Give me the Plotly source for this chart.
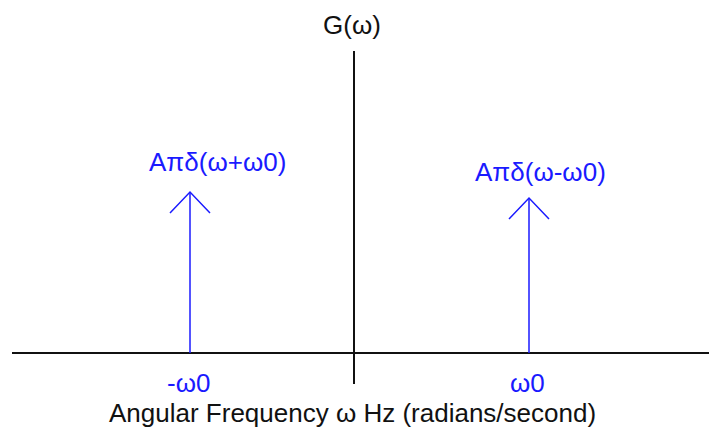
import plotly.graph_objects as go

# Impulse positions (horizontal units, origin at ω = 0) and their heights
impulse_x = [-164, 175]
impulse_h = [161, 155]
impulse_labels = ["Aπδ(ω+ω0)", "Aπδ(ω-ω0)"]
tick_labels = ["-ω0", "ω0"]

# Axis extents
x_axis_span = [-342, 355]
y_axis_span = [-31, 302]

BLUE = "#1a1aff"
FONT = "Liberation Sans, Arial, sans-serif"
SIZE = 26

fig = go.Figure()

# Frequency axis and G(ω) axis
fig.add_trace(go.Scatter(x=x_axis_span, y=[0, 0], mode="lines",
                         line=dict(color="#111111", width=2), hoverinfo="skip"))
fig.add_trace(go.Scatter(x=[0, 0], y=y_axis_span, mode="lines",
                         line=dict(color="#111111", width=2), hoverinfo="skip"))

# Impulses drawn as upward arrows with open heads
head_w, head_h = 20, 21
for x, h in zip(impulse_x, impulse_h):
    fig.add_trace(go.Scatter(x=[x, x], y=[0, h], mode="lines",
                             line=dict(color=BLUE, width=1.5), hoverinfo="skip"))
    fig.add_trace(go.Scatter(x=[x - head_w, x, x + head_w],
                             y=[h - head_h, h, h - head_h], mode="lines",
                             line=dict(color=BLUE, width=1.5), hoverinfo="skip"))

# Impulse labels above the arrows
label_dx = [27, 11]
label_dy = [30, 26]
for x, h, t, dx, dy in zip(impulse_x, impulse_h, impulse_labels, label_dx, label_dy):
    fig.add_annotation(x=x + dx, y=h + dy, text=t, showarrow=False,
                       font=dict(family=FONT, size=SIZE, color=BLUE))

# Tick labels under the impulses
for x, t in zip(impulse_x, tick_labels):
    fig.add_annotation(x=x - 2, y=-30, text=t, showarrow=False,
                       font=dict(family=FONT, size=SIZE, color=BLUE))

# Axis titles
fig.add_annotation(x=-2, y=328, text="G(ω)", showarrow=False,
                   font=dict(family=FONT, size=SIZE, color="#111111"))
fig.add_annotation(x=-2, y=-60, text="Angular Frequency ω Hz (radians/second)",
                   showarrow=False, font=dict(family=FONT, size=SIZE, color="#111111"))

fig.update_layout(
    width=709, height=434,
    margin=dict(l=0, r=0, t=0, b=0),
    paper_bgcolor="white", plot_bgcolor="white",
    showlegend=False,
    xaxis=dict(range=[-354, 355], visible=False, fixedrange=True),
    yaxis=dict(range=[-81, 353], visible=False, fixedrange=True),
)

fig.write_html("out.html")
